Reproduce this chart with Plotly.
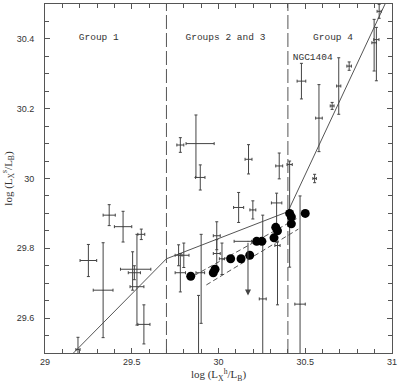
import plotly.graph_objects as go

# ---- data ----
# crosses: x, y, x-minus, x-plus, y-minus, y-plus
cross_x = [29.25, 29.335, 29.37, 29.45, 29.505, 29.515, 29.53, 29.555, 29.57, 29.19,
           29.78, 29.87, 29.895, 29.77, 29.80, 29.78, 29.90, 29.885, 29.99, 29.99, 30.02,
           30.116, 30.173, 30.198, 30.35, 30.335, 30.34, 30.255, 30.41,
           30.47, 30.478, 30.554, 30.579, 30.655, 30.693, 30.753, 30.897, 30.91, 30.926]
cross_y = [29.765, 29.68, 29.895, 29.862, 29.74, 29.73, 29.69, 29.84, 29.582, 29.51,
           30.096, 30.10, 30.003, 29.78, 29.78, 29.73, 29.73, 29.45, 29.836, 29.785, 29.77,
           29.917, 30.055, 29.91, 30.036, 29.93, 29.808, 29.655, 30.04,
           29.64, 30.279, 30.0, 30.173, 30.208, 30.265, 30.322, 30.389, 30.398, 30.479]
cross_xm = [.048, .057, .035, .05, .07, .035, .04, .02, .035, .012,
            .02, .057, .027, .02, .03, .03, .03, 0, .02, .02, .015,
            .029, .02, .017, .02, .03, .015, .02, .015,
            .03, .025, .01, .019, .011, .012, .013, .013, .015, .012]
cross_xp = [.048, .057, .035, .05, .105, .035, .04, .02, .035, .012,
            .02, .105, .027, .02, .03, .03, .02, 0, .02, .02, .015,
            .029, .02, .017, .02, .03, .015, .02, .015,
            .03, .025, .01, .019, .011, .012, .013, .013, .015, .012]
cross_ym = [.046, .136, .03, .044, .06, .02, .11, .015, .056, .1,
            .021, .097, .036, .03, .035, .055, .145, 0, .04, .04, .045,
            .043, .042, .026, .037, .08, .17, .3, .294,
            .2, .051, .012, .096, .01, .081, .012, .081, .118, .02]
cross_yp = [.046, .136, .03, .044, .05, .02, .15, .015, .056, .035,
            .021, .082, .036, .03, .035, .055, .11, .215, .04, .04, .045,
            .043, .042, .026, .037, .028, .01, .24, .01,
            .31, .051, .012, .096, .01, .081, .012, .067, .035, .02]

# upper limit (arrow)
limit_x = [30.17]
limit_y = [29.82]
limit_xm = [0.08]
limit_xp = [0.02]
limit_to = [29.665]

# filled dots
dot_x = [29.84, 29.97, 29.98, 30.07, 30.13, 30.18, 30.22, 30.25, 30.32, 30.33, 30.34,
         30.41, 30.42, 30.42, 30.50]
dot_y = [29.72, 29.73, 29.74, 29.77, 29.77, 29.78, 29.82, 29.82, 29.83, 29.86, 29.85,
         29.90, 29.89, 29.87, 29.90]

# model broken line
model_x = [29.164, 29.7, 30.40, 30.96]
model_y = [29.5, 29.77, 29.905, 30.5]

# dashed fit lines
fit_up_x = [29.86, 30.45]
fit_up_y = [29.722, 29.885]
fit_lo_x = [29.93, 30.46]
fit_lo_y = [29.695, 29.855]

# group boundaries
bound_x = [29.7, 30.4]
y_span = [29.5, 30.5]

group_labels = ["Group 1", "Groups 2 and 3", "Group 4"]
group_x = [29.31, 30.04, 30.66]
group_y = [30.405, 30.405, 30.405]
ngc_label = "NGC1404"
ngc_x = [30.543]
ngc_y = [30.345]

line_col = "#444"

fig = go.Figure()

for bx in bound_x:
    fig.add_trace(go.Scatter(x=[bx, bx], y=y_span, mode="lines",
                             line=dict(color="#555", width=1, dash="14px,4px"),
                             showlegend=False, hoverinfo="skip"))

fig.add_trace(go.Scatter(x=model_x, y=model_y, mode="lines",
                         line=dict(color="#555", width=1), showlegend=False))
fig.add_trace(go.Scatter(x=fit_up_x, y=fit_up_y, mode="lines",
                         line=dict(color="#555", width=1, dash="5px,3px"), showlegend=False))
fig.add_trace(go.Scatter(x=fit_lo_x, y=fit_lo_y, mode="lines",
                         line=dict(color="#555", width=1, dash="5px,3px"), showlegend=False))

fig.add_trace(go.Scatter(
    x=cross_x, y=cross_y, mode="markers",
    marker=dict(size=1, color=line_col),
    error_x=dict(type="data", symmetric=False, array=cross_xp, arrayminus=cross_xm,
                 color=line_col, thickness=1, width=1.5),
    error_y=dict(type="data", symmetric=False, array=cross_yp, arrayminus=cross_ym,
                 color=line_col, thickness=1, width=1.5),
    showlegend=False))

fig.add_trace(go.Scatter(
    x=limit_x, y=limit_y, mode="markers",
    marker=dict(size=1, color=line_col),
    error_x=dict(type="data", symmetric=False, array=limit_xp, arrayminus=limit_xm,
                 color=line_col, thickness=1, width=1.5),
    showlegend=False))
for lx, ly, lt in zip(limit_x, limit_y, limit_to):
    fig.add_annotation(x=lx, y=lt, ax=lx, ay=ly, axref="x", ayref="y", xref="x", yref="y",
                       text="", showarrow=True, arrowhead=2, arrowsize=1.2,
                       arrowwidth=1, arrowcolor=line_col)

fig.add_trace(go.Scatter(x=dot_x, y=dot_y, mode="markers",
                         marker=dict(size=9, color="black"), showlegend=False))

fig.add_trace(go.Scatter(x=group_x, y=group_y, mode="text", text=group_labels,
                         textfont=dict(family="Liberation Mono", size=9.5, color="#333"),
                         showlegend=False))
fig.add_trace(go.Scatter(x=ngc_x, y=ngc_y, mode="text", text=[ngc_label],
                         textfont=dict(family="Liberation Mono", size=9.5, color="#333"),
                         showlegend=False))

axis_common = dict(showgrid=False, zeroline=False, showline=True, linecolor="#555",
                   linewidth=1, mirror="allticks", ticks="inside", ticklen=5,
                   tickcolor="#555", tickfont=dict(family="Liberation Sans", size=9, color="#333"))

fig.update_xaxes(range=[29, 31], dtick=0.5, tick0=29,
                 minor=dict(dtick=0.1, ticks="inside", ticklen=4, tickcolor="#555"),
                 title=dict(text="log (L<sub>X</sub><sup>h</sup>/L<sub>B</sub>)",
                            font=dict(family="Liberation Serif", size=11, color="#333"),
                            standoff=4),
                 **axis_common)
fig.update_yaxes(range=[29.5, 30.5], dtick=0.2, tick0=29.6,
                 minor=dict(dtick=0.05, ticks="inside", ticklen=4, tickcolor="#555"),
                 title=dict(text="log (L<sub>X</sub><sup>s</sup>/L<sub>B</sub>)",
                            font=dict(family="Liberation Serif", size=11, color="#333"),
                            standoff=6),
                 ticklabelstandoff=8,
                 **axis_common)

fig.update_layout(width=400, height=383, margin=dict(l=43, r=7, t=3, b=30),
                  paper_bgcolor="white", plot_bgcolor="white")

fig.write_html("out.html", config={"displayModeBar": False},
               post_script="document.body.style.margin='0';")
